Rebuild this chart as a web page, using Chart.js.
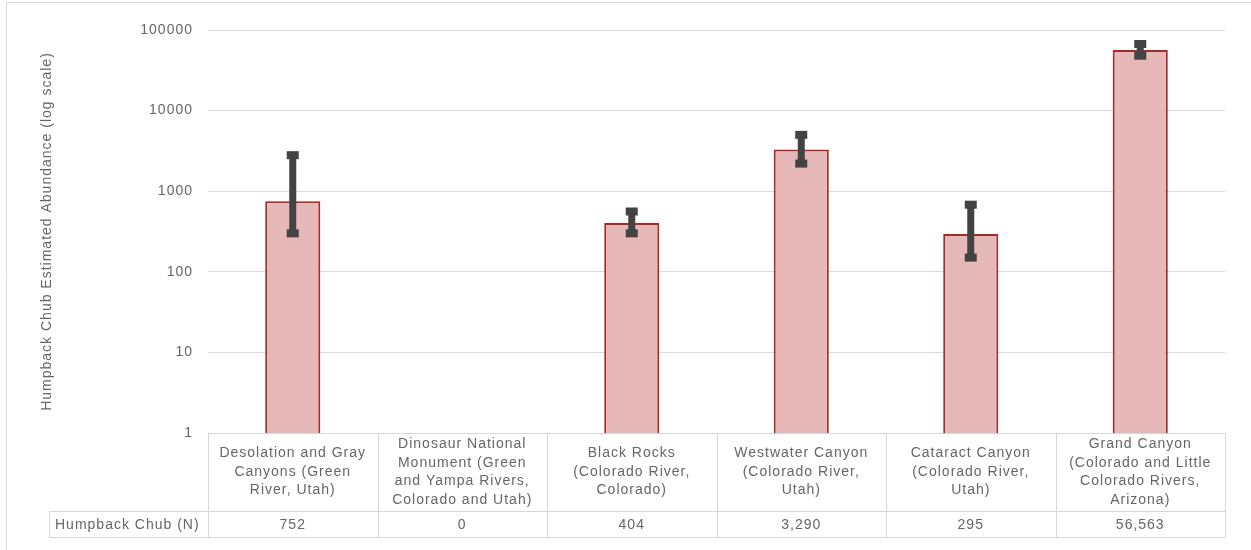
<!DOCTYPE html>
<html><head><meta charset="utf-8">
<script src="https://cdn.jsdelivr.net/npm/chart.js@4.4.0/dist/chart.umd.min.js"></script>
<style>html,body{margin:0;padding:0;background:#fff;}#wrap{width:1251px;height:550px;position:relative;}</style>
</head><body><div id="wrap"><canvas id="c" width="1251" height="550"></canvas></div>
<script>
const categories = [
  ["Desolation and Gray", "Canyons (Green", "River, Utah)"],
  ["Dinosaur National", "Monument (Green", "and Yampa Rivers,", "Colorado and Utah)"],
  ["Black Rocks", "(Colorado River,", "Colorado)"],
  ["Westwater Canyon", "(Colorado River,", "Utah)"],
  ["Cataract Canyon", "(Colorado River,", "Utah)"],
  ["Grand Canyon", "(Colorado and Little", "Colorado Rivers,", "Arizona)"]
];
const abundance = [752, 0, 404, 3290, 295, 56563];
const errorLow  = [300, null, 300, 2200, 150, 48000];
const errorHigh = [2800, null, 560, 5000, 680, 67000];
const yTickValues = [1, 10, 100, 1000, 10000, 100000];
const yTickLabels = ["1", "10", "100", "1000", "10000", "100000"];
const seriesLabel = "Humpback Chub (N)";
const yAxisTitle = "Humpback Chub Estimated Abundance (log scale)";

const FONT = "'Liberation Sans', Arial, sans-serif";
const TXT = '#666666';

const spacingPlugin = {
  id: 'spacing',
  beforeDraw(chart) {
    const ctx = chart.ctx;
    ctx.letterSpacing = '1px';
    ctx.save();
    ctx.strokeStyle = '#d9d9d9';
    ctx.lineWidth = 1;
    ctx.beginPath();
    ctx.moveTo(6.5, 560); ctx.lineTo(6.5, 2.5); ctx.lineTo(1260, 2.5);
    ctx.stroke();
    ctx.restore();
  }
};

const errorBarPlugin = {
  id: 'errorBars',
  afterDatasetsDraw(chart) {
    const ctx = chart.ctx, ys = chart.scales.y;
    const meta = chart.getDatasetMeta(0);
    ctx.save();
    ctx.fillStyle = '#434343';
    meta.data.forEach((bar, i) => {
      if (errorLow[i] == null || errorHigh[i] == null) return;
      const x = bar.x;
      const yH = ys.getPixelForValue(errorHigh[i]);
      const yL = ys.getPixelForValue(errorLow[i]);
      ctx.fillRect(x - 3.5, yH, 7, yL - yH);
      ctx.fillRect(x - 6, yH - 4, 12, 8);
      ctx.fillRect(x - 6, yL - 4, 12, 8);
    });
    ctx.restore();
  }
};

const tablePlugin = {
  id: 'dataTable',
  afterDraw(chart) {
    const ctx = chart.ctx, xs = chart.scales.x, area = chart.chartArea;
    const n = categories.length;
    const w = (area.right - area.left) / n;
    const top = area.bottom, mid = top + 78, bot = mid + 26, leftCell = 49.5;
    ctx.save();
    ctx.letterSpacing = '1px';
    ctx.strokeStyle = '#d6d6d6';
    ctx.lineWidth = 1;
    ctx.beginPath();
    ctx.moveTo(area.left, Math.round(top) + 0.5); ctx.lineTo(area.right, Math.round(top) + 0.5);
    ctx.moveTo(leftCell, mid + 0.5); ctx.lineTo(area.right, mid + 0.5);
    ctx.moveTo(leftCell, bot + 0.5); ctx.lineTo(area.right, bot + 0.5);
    for (let i = 0; i <= n; i++) {
      const x = Math.round(i < n ? xs.getPixelForValue(i) - w / 2 : xs.getPixelForValue(n - 1) + w / 2) + 0.5;
      ctx.moveTo(x, top); ctx.lineTo(x, bot + 0.5);
    }
    ctx.moveTo(leftCell, mid); ctx.lineTo(leftCell, bot + 0.5);
    ctx.stroke();

    ctx.fillStyle = TXT;
    ctx.font = '14px ' + FONT;
    ctx.textAlign = 'center';
    ctx.textBaseline = 'middle';
    const lh = 18.5;
    categories.forEach((lines, i) => {
      const cx = xs.getPixelForValue(i);
      const cy = (top + mid) / 2;
      lines.forEach((t, k) => {
        ctx.fillText(t, cx, cy + (k - (lines.length - 1) / 2) * lh);
      });
      ctx.fillText(abundance[i].toLocaleString('en-US'), cx, (mid + bot) / 2 + 1);
    });
    ctx.textAlign = 'left';
    ctx.fillText(seriesLabel, 55, (mid + bot) / 2 + 1);
    ctx.restore();
  }
};

new Chart(document.getElementById('c'), {
  type: 'bar',
  data: {
    labels: categories.map(c => c.join(' ')),
    datasets: [{
      label: seriesLabel,
      data: abundance.map(v => v > 0 ? v : null),
      backgroundColor: '#E6B8B7',
      borderColor: '#A32B2A',
      borderWidth: 2,
      borderSkipped: 'start',
      categoryPercentage: 1,
      barPercentage: 0.325
    }]
  },
  options: {
    responsive: false,
    animation: false,
    devicePixelRatio: 1,
    layout: { padding: { left: 10, top: 30, right: 26, bottom: 117 } },
    plugins: { legend: { display: false }, tooltip: { enabled: false } },
    scales: {
      x: { display: false },
      y: {
        type: 'logarithmic',
        min: 1, max: 100000,
        afterBuildTicks(s) { s.ticks = yTickValues.map(v => ({ value: v })); },
        afterFit(s) { s.width = 198; },
        ticks: {
          callback: (v) => yTickLabels[yTickValues.indexOf(v)] ?? '',
          color: TXT,
          font: { family: FONT, size: 14 },
          padding: 15
        },
        grid: { color: '#d9d9d9', lineWidth: 1, drawTicks: false },
        border: { display: false },
        title: {
          display: true, text: yAxisTitle, color: TXT,
          font: { family: FONT, size: 14 },
          padding: { top: 29, bottom: 0 }
        }
      }
    }
  },
  plugins: [spacingPlugin, errorBarPlugin, tablePlugin]
});
</script></body></html>
